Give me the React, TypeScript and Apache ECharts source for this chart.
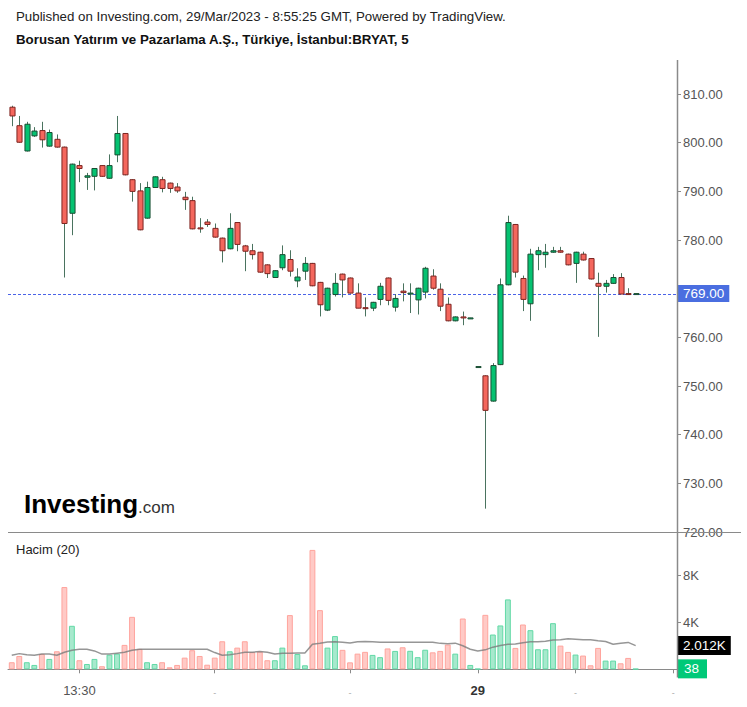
import React, { useEffect, useRef } from 'react';
import * as echarts from 'echarts';

const FONT = '"Liberation Sans", Arial, sans-serif';

const opens = [
  807.3, 803.5, 798.3, 801.4, 802.5, 799.3, 800.7, 799.1, 785.5, 795.3,
  792.9, 793.1, 795.3, 792.7, 797.5, 801.9, 792.4, 790.1, 784.5, 790.8,
  792.4, 791.7, 790.9, 788.8, 788.1, 782.5, 783.7, 782.4, 780.4, 778.2,
  783.6, 778.8, 777.8, 777.5, 774.9, 772.3, 774.3, 776.0, 771.6, 773.6,
  775.2, 771.3, 765.6, 768.8, 773.0, 772.2, 769.1, 766.1, 766.0, 767.8,
  772.2, 766.2, 769.5, 769.0, 767.7, 769.3, 772.6, 769.9, 766.8, 763.4,
  764.2, 763.9, 754.0, 752.1, 746.9, 754.4, 770.8, 783.2, 772.1, 766.9,
  777.0, 777.0, 777.5, 777.8, 777.1, 775.2, 777.1, 776.2, 771.1, 770.5,
  771.1, 772.3, 769.0, 769.0,
];
const closes = [
  805.5, 800.1, 803.8, 802.4, 800.6, 802.1, 799.1, 783.4, 795.6, 794.7,
  793.2, 794.7, 793.1, 795.3, 801.9, 793.4, 790.0, 782.1, 790.8, 793.0,
  790.6, 790.6, 790.1, 788.3, 782.3, 782.3, 783.2, 780.6, 777.8, 782.4,
  779.1, 777.7, 777.0, 773.4, 773.1, 773.7, 777.0, 773.6, 772.4, 775.2,
  770.6, 766.7, 770.1, 771.1, 771.8, 769.1, 766.0, 765.9, 767.2, 770.5,
  767.6, 768.0, 769.2, 769.1, 770.1, 774.2, 770.1, 766.4, 763.4, 764.2,
  764.0, 764.0, 754.0, 745.0, 754.2, 770.8, 783.6, 773.4, 767.8, 777.1,
  777.8, 777.5, 777.8, 777.5, 774.9, 777.5, 775.9, 772.0, 770.5, 771.1,
  772.3, 768.9, 768.8, 769.0,
];
const lows = [
  803.4, 800.0, 798.2, 801.2, 799.0, 799.2, 799.0, 772.3, 781.0, 791.9,
  790.3, 790.2, 793.0, 792.6, 796.0, 793.3, 787.9, 782.0, 784.4, 790.7,
  789.8, 789.7, 789.7, 786.2, 782.2, 781.5, 782.7, 780.5, 775.4, 778.1,
  777.7, 773.6, 776.0, 773.3, 772.2, 772.2, 773.8, 772.5, 770.3, 771.8,
  770.5, 764.3, 765.4, 768.4, 768.2, 769.0, 766.0, 764.3, 765.4, 766.6,
  766.6, 765.3, 767.4, 765.0, 764.7, 768.0, 769.8, 765.4, 763.3, 763.3,
  762.5, 763.8, 754.0, 724.8, 746.8, 754.3, 770.7, 772.3, 765.4, 763.4,
  773.8, 774.3, 777.4, 777.4, 774.8, 771.2, 775.8, 771.9, 760.1, 769.2,
  771.0, 768.9, 768.7, 769.0,
];
const highs = [
  807.6, 805.5, 804.3, 803.2, 804.3, 802.7, 801.7, 799.2, 795.7, 796.3,
  793.8, 794.8, 795.4, 797.6, 805.5, 802.0, 792.5, 791.7, 792.0, 793.1,
  793.0, 791.8, 791.7, 789.9, 788.9, 784.5, 784.3, 783.4, 780.5, 785.5,
  783.7, 779.0, 779.2, 777.6, 775.0, 773.8, 778.9, 777.9, 774.2, 776.5,
  775.3, 771.4, 770.2, 773.2, 773.1, 772.3, 771.1, 768.2, 767.3, 771.2,
  772.3, 768.9, 771.1, 771.1, 770.2, 774.5, 774.0, 771.1, 768.2, 764.3,
  765.3, 764.0, 754.0, 752.2, 754.7, 772.1, 785.0, 783.3, 772.7, 778.2,
  778.6, 779.2, 778.6, 778.6, 777.2, 777.6, 777.6, 776.3, 773.3, 771.8,
  773.0, 773.2, 770.1, 769.0,
];
const volumes = [
  600, 1130, 600, 370, 1300, 880, 1530, 6980, 3690, 770,
  450, 880, 260, 1240, 1330, 2070, 4450, 1730, 600, 450,
  600, 170, 370, 990, 1620, 1130, 390, 990, 2380, 1530,
  1840, 2380, 1450, 1500, 770, 770, 1840, 4600, 1300, 340,
  10130, 5020, 1840, 2820, 1650, 590, 1330, 1480, 1220, 1030,
  1770, 1560, 1870, 1570, 1030, 1660, 1440, 1560, 2100, 1330,
  4310, 370, 40, 4620, 2950, 3720, 5930, 1815, 3800, 3320,
  1700, 1700, 3915, 2010, 1475, 1250, 1165, 340, 1815, 740,
  740, 510, 965, 38,
];
const volumeMA = [
  1190, 1330, 1240, 1190, 1290, 1290, 1190, 1450, 1620, 1700,
  1700, 1560, 1290, 1290, 1370, 1450, 1620, 1700, 1700, 1700,
  1700, 1700, 1700, 1700, 1700, 1700, 1700, 1420, 1190, 1240,
  1330, 1450, 1450, 1500, 1450, 1290, 1360, 1360, 1380, 1380,
  2130, 2210, 2320, 2330, 2300, 2230, 2330, 2360, 2340, 2300,
  2300, 2300, 2300, 2300, 2300, 2300, 2300, 2200, 2170, 2220,
  2000, 1700, 1560, 1650, 1880, 2020, 2130, 2150, 2250, 2330,
  2330, 2390, 2480, 2500, 2590, 2560, 2500, 2500, 2420, 2360,
  2130, 2220, 2280, 2012,
];
const slotCount = 89;
const tickIndex = [9, 27, 45, 62, 75, 88];
const tickLabels = ['13:30', '-', '-', '29', '-', '-'];
const priceTicks = [720, 730, 740, 750, 760, 770, 780, 790, 800, 810];
const volumeTicks = [4000, 8000];
const lastPrice = 769;
const lastMA = 2012;
const lastVolume = 38;

const titleLine1 = 'Published on Investing.com, 29/Mar/2023 - 8:55:25 GMT, Powered by TradingView.';
const titleLine2 = 'Borusan Yatırım ve Pazarlama A.Ş., Türkiye, İstanbul:BRYAT, 5';
const volumeTitle = 'Hacim (20)';

const hiddenLine = { color: 'rgba(0,0,0,0)', width: 0, type: 'solid' };

export default function App() {
  const ref = useRef<HTMLDivElement>(null);
  useEffect(() => {
    if (!ref.current) return;
    const chart = echarts.init(ref.current, undefined, { renderer: 'svg' });
    const cats = Array.from({ length: slotCount }, (_, i) => String(i));
    const candleData = opens.map((o, i) => [i, o, closes[i], lows[i], highs[i]]);
    const volData = volumes.map((v, i) => {
      const up = closes[i] >= opens[i];
      return {
        value: v,
        itemStyle: {
          color: up ? '#a7e9cd' : '#ffcac6',
          borderColor: up ? '#62d9a6' : '#ffa49d',
          borderWidth: 1,
        },
      };
    });
    const axisGray = '#8a8a8a';
    const boxLabel = (text: string, bg: string, padding: number[]) => ({
      show: true,
      position: 'end',
      distance: 1,
      formatter: text,
      backgroundColor: bg,
      color: '#fff',
      fontSize: 13.5,
      fontFamily: FONT,
      padding,
      opacity: 1,
    });
    const baseGraphics: any[] = [
      {
        type: 'text',
        left: 16,
        top: 10,
        style: { text: titleLine1, fill: '#222', font: '13.3px ' + FONT },
      },
      {
        type: 'text',
        left: 16,
        top: 33,
        style: { text: titleLine2, fill: '#111', font: 'bold 13.3px ' + FONT },
      },
      {
        type: 'text',
        x: 24,
        y: 504,
        style: { text: 'Investing', fill: '#000', font: 'bold 26px ' + FONT, verticalAlign: 'middle' },
      },
      {
        type: 'text',
        x: 138,
        y: 507,
        style: { text: '.com', fill: '#333', font: '17px ' + FONT, verticalAlign: 'middle' },
      },
      {
        type: 'text',
        left: 16,
        top: 543,
        style: { text: volumeTitle, fill: '#222', font: '13px ' + FONT },
      },
      {
        type: 'line',
        shape: { x1: 8, y1: 532.5, x2: 741, y2: 532.5 },
        style: { stroke: axisGray, lineWidth: 1 },
        z: 10,
      },
      {
        type: 'line',
        shape: { x1: 677.5, y1: 60, x2: 677.5, y2: 677.5 },
        style: { stroke: axisGray, lineWidth: 1.5 },
        z: 10,
      },
    ];
    chart.setOption({
      animation: false,
      textStyle: { fontFamily: FONT },
      grid: [
        { left: 8, right: 70, top: 60, height: 472 },
        { left: 8, right: 70, top: 532, height: 137.3 },
      ],
      xAxis: [
        { type: 'category', gridIndex: 0, data: cats, show: false },
        {
          type: 'category',
          gridIndex: 1,
          data: cats,
          offset: 8,
          axisLine: { show: true, lineStyle: { color: axisGray } },
          axisTick: {
            show: true,
            alignWithLabel: true,
            interval: (i: number) => tickIndex.includes(i),
            length: 4,
            lineStyle: { color: axisGray },
          },
          axisLabel: {
            interval: (i: number) => tickIndex.includes(i),
            formatter: (_v: string, i: number) => {
              const k = tickIndex.indexOf(i);
              if (k < 0) return '';
              const t = tickLabels[k];
              if (t === '-') return '{d|-}';
              if (/^\d+$/.test(t)) return '{b|' + t + '}';
              return '{n|' + t + '}';
            },
            margin: 7,
            rich: {
              n: { color: '#555', fontSize: 13, fontFamily: FONT },
              b: { color: '#333', fontSize: 13, fontWeight: 'bold', fontFamily: FONT },
              d: { color: '#aaa', fontSize: 9, fontFamily: FONT, padding: [4, 0, 0, 0] },
            },
          },
          splitLine: { show: false },
        },
      ],
      yAxis: [
        {
          type: 'value',
          gridIndex: 0,
          position: 'right',
          min: 720,
          max: 817,
          interval: 10,
          axisLine: { show: false },
          axisTick: { show: true, length: 4, lineStyle: { color: axisGray }, customValues: priceTicks },
          axisLabel: {
            customValues: priceTicks,
            formatter: (v: number) =>
              priceTicks.includes(v) && Math.abs(v - lastPrice) > 3 ? v.toFixed(2) : '',
            color: '#555',
            fontSize: 13,
            margin: 6,
            fontFamily: FONT,
          },
          splitLine: { show: false },
        },
        {
          type: 'value',
          gridIndex: 1,
          position: 'right',
          min: 0,
          max: 11650,
          interval: 4000,
          axisLine: { show: false },
          axisTick: { show: true, length: 4, lineStyle: { color: axisGray }, customValues: volumeTicks },
          axisLabel: {
            customValues: volumeTicks,
            formatter: (v: number) => (volumeTicks.includes(v) ? v / 1000 + 'K' : ''),
            color: '#555',
            fontSize: 13,
            margin: 6,
            fontFamily: FONT,
          },
          splitLine: { show: false },
        },
      ],
      series: [
        {
          type: 'custom',
          xAxisIndex: 0,
          yAxisIndex: 0,
          data: candleData,
          encode: { x: 0, y: [1, 2, 3, 4] },
          z: 3,
          renderItem: (_p: any, api: any) => {
            const i = api.value(0);
            const o = api.value(1);
            const c = api.value(2);
            const l = api.value(3);
            const h = api.value(4);
            const pO = api.coord([i, o]);
            const pC = api.coord([i, c]);
            const pL = api.coord([i, l]);
            const pH = api.coord([i, h]);
            const bw = api.size([1, 0])[0] * 0.68;
            const up = c >= o;
            const top = Math.min(pO[1], pC[1]);
            const hgt = Math.max(Math.abs(pO[1] - pC[1]), 1);
            const cx = Math.round(pO[0]) + 0.5;
            return {
              type: 'group',
              children: [
                {
                  type: 'line',
                  shape: { x1: cx, y1: pH[1], x2: cx, y2: pL[1] },
                  style: { stroke: '#4a735f', lineWidth: 1 },
                },
                {
                  type: 'rect',
                  shape: { x: cx - bw / 2, y: top, width: bw, height: hgt },
                  style: {
                    fill: up ? '#05c271' : '#f4675d',
                    stroke: up ? '#1b4d33' : '#7d2521',
                    lineWidth: 1,
                  },
                },
              ],
            };
          },
        },
        {
          type: 'line',
          xAxisIndex: 0,
          yAxisIndex: 0,
          data: closes,
          symbol: 'none',
          silent: true,
          lineStyle: { color: 'rgba(0,0,0,0)', width: 0 },
          z: 2,
          markLine: {
            silent: true,
            symbol: ['none', 'none'],
            lineStyle: hiddenLine,
            label: boxLabel(lastPrice.toFixed(2), '#4a6ee0', [2, 5, 1, 5]),
            data: [{ yAxis: lastPrice }],
          },
        },
        {
          type: 'bar',
          xAxisIndex: 1,
          yAxisIndex: 1,
          data: volData,
          barWidth: '78%',
          z: 2,
          markLine: {
            silent: true,
            symbol: ['none', 'none'],
            lineStyle: hiddenLine,
            label: boxLabel(String(lastVolume), '#00c978', [3, 8, 2, 6]),
            data: [{ yAxis: lastVolume }],
          },
        },
        {
          type: 'line',
          xAxisIndex: 1,
          yAxisIndex: 1,
          data: volumeMA,
          symbol: 'none',
          silent: true,
          z: 4,
          lineStyle: { color: '#7c7c7c', width: 1.5, opacity: 0.8 },
          markLine: {
            silent: true,
            symbol: ['none', 'none'],
            lineStyle: hiddenLine,
            label: boxLabel((lastMA / 1000).toFixed(3) + 'K', '#000', [3, 5, 2, 5]),
            data: [{ yAxis: lastMA }],
          },
        },
      ],
      graphic: baseGraphics,
    });
    // Last-price dotted guide: y position comes from the price axis scale.
    const yLast = chart.convertToPixel({ yAxisIndex: 0 }, lastPrice) as number;
    const yPix = Math.round(yLast) + 0.5;
    chart.setOption({
      graphic: [
        ...baseGraphics,
        {
          type: 'line',
          shape: { x1: 8, y1: yPix, x2: 677, y2: yPix },
          style: { stroke: '#4a63e8', lineWidth: 1, lineDash: [3, 2] },
          z: 1,
        },
      ],
    });
    return () => chart.dispose();
  }, []);
  return (
    <div
      ref={ref}
      style={{ position: 'absolute', left: 0, top: 0, width: 747, height: 707, background: '#fff' }}
    />
  );
}
